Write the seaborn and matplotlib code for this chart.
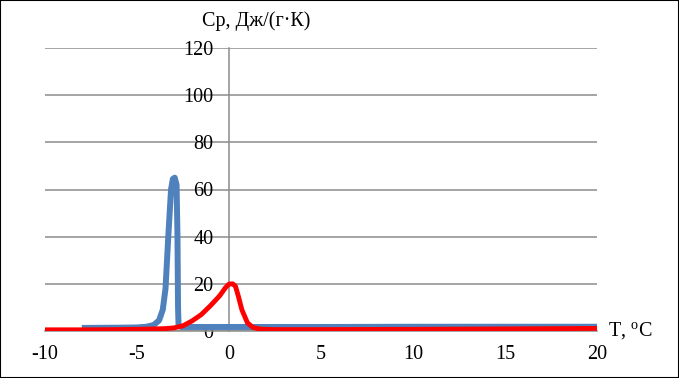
import matplotlib
matplotlib.use("Agg")
import matplotlib.pyplot as plt
import seaborn as sns
import pandas as pd
from matplotlib.patches import Rectangle

# Data
blue_T = [-8, -6, -5, -4.5, -4.1, -3.8, -3.6, -3.45, -3.3, -3.15, -3.05, -2.95, -2.85, -2.8, -2.77, -2.74, -2.6, 0, 5, 10, 15, 20]
blue_Cp = [1.3, 1.4, 1.5, 1.8, 2.5, 4.5, 9, 18, 40, 60, 64.5, 65, 62, 40, 10, 2.2, 1.7, 1.7, 1.7, 1.8, 1.8, 1.8]
red_T = [-10, -8, -6, -4.5, -3.5, -3, -2.5, -2, -1.5, -1, -0.5, -0.2, 0, 0.2, 0.35, 0.5, 0.7, 1.0, 1.3, 1.7, 2.5, 5, 10, 15, 20]
red_Cp = [0.5, 0.5, 0.6, 0.8, 1.0, 1.3, 2.2, 4.3, 7.0, 10.8, 15.0, 18.3, 19.9, 20.0, 19.0, 15.0, 9.0, 3.5, 1.5, 0.8, 0.6, 0.6, 0.7, 0.9, 1.1]
x_ticks = [-10, -5, 0, 5, 10, 15, 20]
y_ticks = [0, 20, 40, 60, 80, 100, 120]

sns.set_style("white")
plt.rcParams['font.family'] = ['Liberation Serif', 'DejaVu Serif']
plt.rcParams['mathtext.fontset'] = 'custom'
plt.rcParams['mathtext.rm'] = 'Liberation Serif'
plt.rcParams['text.color'] = 'black'
plt.rcParams['xtick.color'] = 'black'
plt.rcParams['ytick.color'] = 'black'

fig = plt.figure(figsize=(6.79, 3.78), dpi=100)
ax = fig.add_axes([45/679, 1 - 331/378, (597-45)/679, (331-48)/378])

df_b = pd.DataFrame({"T": blue_T, "Cp": blue_Cp})
df_r = pd.DataFrame({"T": red_T, "Cp": red_Cp})
sns.lineplot(data=df_b, x="T", y="Cp", ax=ax, color="#4F81BD", linewidth=4.3, estimator=None, sort=False,
             solid_joinstyle="round", solid_capstyle="butt", zorder=3)
sns.lineplot(data=df_r, x="T", y="Cp", ax=ax, color="#FF0000", linewidth=3.5, estimator=None, sort=False,
             solid_joinstyle="round", solid_capstyle="butt", zorder=4)

ax.set_xlim(-10, 20)
ax.set_ylim(0, 120)
ax.set_xticks(x_ticks)
ax.set_yticks(y_ticks)
ax.set_xticklabels([str(v) for v in x_ticks])
ax.set_yticklabels([str(v) for v in y_ticks])
ax.set_xlabel("")
ax.set_ylabel("")

gray = "#8C8C8C"
ax.grid(True, axis="y", color=gray, linewidth=1.1)
ax.set_axisbelow(True)
for s in ["top", "right"]:
    ax.spines[s].set_visible(False)
ax.spines["left"].set_position(("data", 0))
ax.spines["left"].set_color(gray)
ax.spines["left"].set_linewidth(1.1)
ax.spines["bottom"].set_color(gray)
ax.spines["bottom"].set_linewidth(1.1)

ax.tick_params(axis="x", direction="out", length=4, width=1.1, color=gray, labelcolor="black", pad=6, labelsize=14.5)
ax.tick_params(axis="y", direction="out", length=0, pad=11, labelcolor="black", labelsize=14.5)

fig.text(310/679, 1 - 21/378, "Ср, Дж/(г·К)", fontsize=14.5, va="center", ha="right", color="black")
fig.text(608/679, 1 - 331/378, r"T, $^{\mathrm{o}}$C", fontsize=14.5, va="center", ha="left", color="black")

fig.patches.append(Rectangle((0, 0), 1, 1, transform=fig.transFigure, fill=False,
                             edgecolor="black", linewidth=1.5))

fig.savefig("out.png", dpi=100)
